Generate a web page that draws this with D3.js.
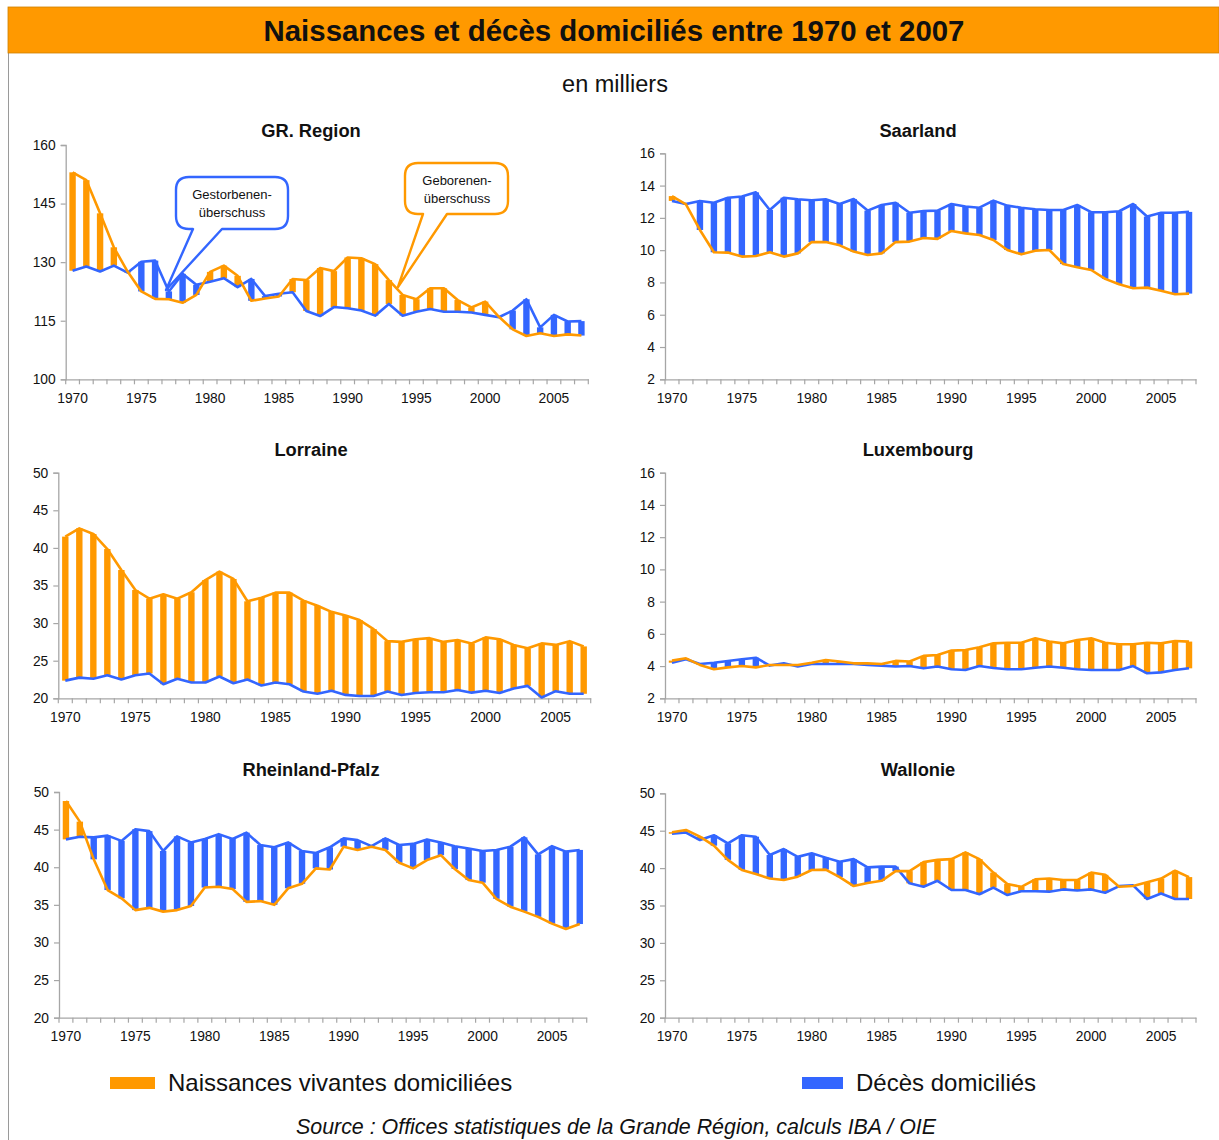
<!DOCTYPE html>
<html><head><meta charset="utf-8">
<script src="https://cdn.jsdelivr.net/npm/d3@7"></script>
<style>
html,body{margin:0;padding:0;background:#fff;}
svg{display:block;font-family:"Liberation Sans",Arial,sans-serif;}
</style></head>
<body>
<svg id="chart" width="1219" height="1140"></svg>
<script>
// ---------- DATA (thousands) ----------
const years = [1970,1971,1972,1973,1974,1975,1976,1977,1978,1979,1980,1981,1982,1983,1984,1985,1986,1987,1988,1989,
               1990,1991,1992,1993,1994,1995,1996,1997,1998,1999,2000,2001,2002,2003,2004,2005,2006,2007];
const yearLabels = [1970,1975,1980,1985,1990,1995,2000,2005];

const grBirths = [153.0,151.0,142.5,133.8,127.6,122.5,120.6,120.5,119.6,121.6,127.5,129.1,126.5,120.1,120.7,121.2,125.7,125.4,128.5,127.7,
                  131.2,131.0,129.5,125.4,121.6,120.5,123.3,123.3,120.3,118.4,119.9,116.0,112.8,111.1,111.8,111.1,111.5,111.2];
const grDeaths = [127.8,128.9,127.6,129.1,127.3,130.1,130.4,122.5,127.0,124.2,125.0,125.9,123.6,125.7,121.3,121.9,122.3,117.5,116.2,118.5,
                  118.2,117.6,116.3,119.3,116.3,117.3,118.0,117.3,117.3,117.1,116.5,115.9,117.6,120.5,113.3,116.5,114.8,114.9];

const saBirths = [13.35,12.84,11.25,9.87,9.85,9.6,9.64,9.87,9.6,9.8,10.5,10.5,10.3,9.91,9.7,9.8,10.5,10.53,10.75,10.7,
                  11.19,11.04,10.94,10.63,10.01,9.74,9.97,10.01,9.14,8.94,8.77,8.22,7.89,7.64,7.68,7.49,7.27,7.31];
const saDeaths = [13.05,12.86,13.05,12.94,13.25,13.32,13.58,12.49,13.25,13.15,13.09,13.15,12.86,13.17,12.45,12.8,12.94,12.32,12.43,12.45,
                  12.86,12.7,12.63,13.07,12.76,12.63,12.53,12.49,12.49,12.8,12.35,12.35,12.41,12.86,12.08,12.32,12.32,12.37];

const loBirths = [41.5,42.6,41.85,39.85,37.06,34.4,33.25,33.83,33.25,34.1,35.73,36.84,35.87,32.9,33.38,34.05,34.05,32.99,32.3,31.5,
                  31.0,30.4,29.2,27.6,27.5,27.85,28.0,27.5,27.75,27.3,28.1,27.85,27.1,26.65,27.3,27.1,27.6,26.9];
const loDeaths = [22.35,22.75,22.6,23.06,22.5,23.06,23.3,21.87,22.6,22.1,22.1,22.9,22.0,22.5,21.7,22.1,21.87,20.9,20.6,21.0,
                  20.45,20.3,20.3,20.9,20.45,20.7,20.8,20.8,21.1,20.75,21.0,20.7,21.3,21.65,20.1,20.95,20.6,20.6];

const luBirths = [4.34,4.48,4.07,3.8,3.92,4.0,3.92,4.07,4.07,4.07,4.21,4.38,4.28,4.17,4.17,4.13,4.32,4.28,4.63,4.69,
                  4.96,5.0,5.17,5.41,5.45,5.45,5.72,5.52,5.41,5.62,5.72,5.45,5.35,5.35,5.45,5.41,5.56,5.52];
const luDeaths = [4.21,4.42,4.13,4.21,4.32,4.42,4.52,4.03,4.17,3.97,4.13,4.13,4.13,4.13,4.07,4.03,3.97,4.0,3.86,3.97,
                  3.8,3.76,4.0,3.88,3.8,3.8,3.9,3.97,3.9,3.8,3.76,3.76,3.76,4.0,3.55,3.61,3.76,3.86];

const rpBirths = [48.8,46.06,41.05,36.97,35.87,34.3,34.6,34.1,34.3,34.85,37.3,37.4,37.1,35.4,35.5,35.0,37.2,37.8,39.85,39.7,
                  42.73,42.3,42.73,42.3,40.6,39.85,40.96,41.6,39.77,38.3,37.95,35.8,34.76,34.1,33.4,32.5,31.8,32.45];
const rpDeaths = [43.7,44.06,43.97,44.2,43.5,45.04,44.8,42.16,44.1,43.3,43.75,44.4,43.75,44.6,42.95,42.65,43.3,42.16,41.9,42.65,
                  43.84,43.6,42.8,43.84,42.95,43.1,43.7,43.3,42.8,42.5,42.16,42.3,42.73,43.97,41.7,42.8,42.07,42.3];

const waBirths = [44.8,45.1,44.2,43.0,41.1,39.75,39.2,38.6,38.4,38.85,39.75,39.8,38.8,37.6,38.0,38.3,39.6,39.6,40.8,41.1,
                  41.2,42.1,41.2,39.4,37.87,37.5,38.5,38.6,38.4,38.4,39.4,39.1,37.5,37.6,38.1,38.6,39.65,38.8];
const waDeaths = [44.6,44.75,43.75,44.4,43.3,44.4,44.2,41.75,42.55,41.5,41.97,41.4,40.86,41.2,40.1,40.2,40.2,37.96,37.5,38.3,
                  37.07,37.07,36.5,37.4,36.4,36.9,36.9,36.85,37.15,37.0,37.15,36.7,37.6,37.7,35.87,36.6,35.87,35.87];

const ticksGR = [100,115,130,145,160];
const ticksSmall = [2,4,6,8,10,12,14,16];
const ticksLarge = [20,25,30,35,40,45,50];

const titleText = "Naissances et décès domiciliés entre 1970 et 2007";
const subtitleText = "en milliers";
const legendBirths = "Naissances vivantes domiciliées";
const legendDeaths = "Décès domiciliés";
const sourceText = "Source : Offices statistiques de la Grande Région, calculs IBA / OIE";

// ---------- STYLE ----------
const ORANGE = "#FF9900", BLUE = "#3366FF", AXIS = "#A6A6A6";

const svg = d3.select("#chart");

// frame + header
svg.append("line").attr("x1",8.5).attr("x2",8.5).attr("y1",53).attr("y2",1140).attr("stroke","#9a9a9a").attr("stroke-width",1);
svg.append("rect").attr("x",8).attr("y",7).attr("width",1211).attr("height",46).attr("fill",ORANGE)
   .attr("stroke","#d08000").attr("stroke-width",0.8);
svg.append("text").attr("x",614).attr("y",41).attr("text-anchor","middle")
   .attr("font-size",29.4).attr("font-weight","bold").attr("fill","#111").text(titleText);
svg.append("text").attr("x",615).attr("y",92).attr("text-anchor","middle")
   .attr("font-size",23.5).attr("fill","#111").text(subtitleText);

const panels = [
  {title:"GR. Region", births:grBirths, deaths:grDeaths, x0:65.7, x1:588.3, yTop:145, yBot:379.3, dom:[100,160], ticks:ticksGR, tx:311, ty:137},
  {title:"Saarland", births:saBirths, deaths:saDeaths, x0:665, x1:1196, yTop:153.3, yBot:379.3, dom:[2,16], ticks:ticksSmall, tx:918, ty:137},
  {title:"Lorraine", births:loBirths, deaths:loDeaths, x0:58.3, x1:590.7, yTop:472.7, yBot:698.3, dom:[20,50], ticks:ticksLarge, tx:311, ty:456},
  {title:"Luxembourg", births:luBirths, deaths:luDeaths, x0:665, x1:1196, yTop:472.7, yBot:698.3, dom:[2,16], ticks:ticksSmall, tx:918, ty:456},
  {title:"Rheinland-Pfalz", births:rpBirths, deaths:rpDeaths, x0:59, x1:586.7, yTop:792, yBot:1017.7, dom:[20,50], ticks:ticksLarge, tx:311, ty:776},
  {title:"Wallonie", births:waBirths, deaths:waDeaths, x0:665, x1:1196, yTop:793.3, yBot:1017.7, dom:[20,50], ticks:ticksLarge, tx:918, ty:776}
];

panels.forEach(p => {
  const g = svg.append("g");
  const x = d3.scaleBand().domain(years).range([p.x0, p.x1]).padding(0);
  const y = d3.scaleLinear().domain(p.dom).range([p.yBot, p.yTop]);
  const cx = d => x(d) + x.bandwidth()/2;

  g.append("text").attr("x",p.tx).attr("y",p.ty).attr("text-anchor","middle")
   .attr("font-size",18.3).attr("font-weight","bold").attr("fill","#111").text(p.title);

  // y axis
  const ya = g.append("g").attr("transform",`translate(${p.x0},0)`)
    .call(d3.axisLeft(y).tickValues(p.ticks).tickSize(5).tickPadding(5).tickFormat(d3.format("d")));
  ya.select(".domain").attr("stroke",AXIS).attr("stroke-width",1.3);
  ya.selectAll(".tick line").attr("stroke",AXIS).attr("stroke-width",1.2);
  ya.selectAll("text").attr("font-size",13.8).attr("fill","#111").attr("font-family","Liberation Sans, Arial, sans-serif");

  // x axis
  const xa = g.append("g").attr("transform",`translate(0,${p.yBot})`)
    .call(d3.axisBottom(x).tickValues(yearLabels).tickSize(0).tickPadding(14).tickFormat(d3.format("d")));
  xa.select(".domain").attr("stroke",AXIS).attr("stroke-width",1.3);
  xa.selectAll("text").attr("font-size",13.8).attr("fill","#111").attr("font-family","Liberation Sans, Arial, sans-serif");
  const bounds = years.map(d => x(d)).concat([p.x1]);
  g.selectAll(".xt").data(bounds).enter().append("line")
    .attr("x1",d=>d).attr("x2",d=>d).attr("y1",p.yBot).attr("y2",p.yBot+5)
    .attr("stroke",AXIS).attr("stroke-width",1.2);

  // up/down bars
  const rows = years.map((yr,i)=>({yr, b:p.births[i], d:p.deaths[i]}));
  const bw = 6.4;
  g.selectAll(".bar").data(rows).enter().append("rect")
    .attr("x",r=>cx(r.yr)-bw/2).attr("width",bw)
    .attr("y",r=>y(Math.max(r.b,r.d)))
    .attr("height",r=>Math.max(0.5, Math.abs(y(r.b)-y(r.d))))
    .attr("fill",r=> r.b>=r.d ? ORANGE : BLUE);

  // lines
  const lineB = d3.line().x(r=>cx(r.yr)).y(r=>y(r.b));
  const lineD = d3.line().x(r=>cx(r.yr)).y(r=>y(r.d));
  g.append("path").datum(rows).attr("d",lineD).attr("fill","none").attr("stroke",BLUE).attr("stroke-width",2.6).attr("stroke-linejoin","round");
  g.append("path").datum(rows).attr("d",lineB).attr("fill","none").attr("stroke",ORANGE).attr("stroke-width",2.6).attr("stroke-linejoin","round");
});

// callouts
function callout(x0,y0,x1,y1,r,pA,pB,tip,color,lines,tcx,ty0){
  const path = `M${x0+r},${y0} H${x1-r} Q${x1},${y0} ${x1},${y0+r} V${y1-r} Q${x1},${y1} ${x1-r},${y1}
    H${pB} L${tip[0]},${tip[1]} L${pA},${y1} H${x0+r} Q${x0},${y1} ${x0},${y1-r} V${y0+r} Q${x0},${y0} ${x0+r},${y0} Z`;
  svg.append("path").attr("d",path).attr("fill","#fff").attr("stroke",color).attr("stroke-width",2.4).attr("stroke-linejoin","round");
  lines.forEach((t,i)=>svg.append("text").attr("x",tcx).attr("y",ty0+i*18).attr("text-anchor","middle")
    .attr("font-size",13).attr("fill","#111").text(t));
}
callout(176,177,288,229,13,193,222,[166,290],BLUE,["Gestorbenen-","überschuss"],232,199);
callout(405,163,508,214,13,423,447,[398,287],ORANGE,["Geborenen-","überschuss"],457,185);

// legend
svg.append("rect").attr("x",110).attr("y",1077).attr("width",45).attr("height",12).attr("fill",ORANGE);
svg.append("text").attr("x",168).attr("y",1091).attr("font-size",24).attr("fill","#111").text(legendBirths);
svg.append("rect").attr("x",802).attr("y",1077).attr("width",41).attr("height",12).attr("fill",BLUE);
svg.append("text").attr("x",856).attr("y",1091).attr("font-size",24).attr("fill","#111").text(legendDeaths);

// source
svg.append("text").attr("x",616).attr("y",1134).attr("text-anchor","middle").attr("font-size",21.4)
   .attr("font-style","italic").attr("fill","#111").text(sourceText);
</script>
</body></html>
